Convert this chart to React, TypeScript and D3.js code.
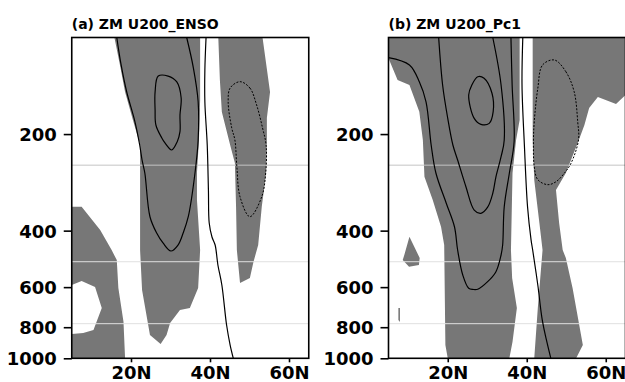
import React, { useEffect, useRef } from "react";
import * as d3 from "d3";

type Pt = [number, number]; // [latitude (deg N), pressure (hPa)]

const panelTitles = ["(a) ZM U200_ENSO", "(b) ZM U200_Pc1"];
const latTicks = [20, 40, 60];
const presTicks = [200, 400, 600, 800, 1000];
const refLevels = [250, 500, 780];

// ---- panel (a) ENSO ----
const ensoShade: Pt[][] = [
    [[15.8, 100], [17.2, 121.8], [18.5, 147.8], [20.5, 181], [22.3, 216], [22.3, 460], [22.8, 612], [24.8, 846], [27.5, 903], [29.0, 846], [29.9, 776], [32.4, 707], [34.9, 697], [37.0, 604], [37.5, 460], [36.7, 321], [36.7, 264], [37.2, 209], [37.5, 157], [37.5, 100]],
    [[42.1, 100], [42.5, 135.7], [43.0, 170.7], [45.1, 216.3], [46.3, 246.2], [46.6, 337.6], [46.8, 459.6], [47.6, 582], [50.1, 562], [51.0, 501], [52.2, 443.5], [53.1, 337.6], [54.2, 264.5], [54.4, 208.6], [54.4, 178.2], [55.2, 147.8], [53.3, 100]],
    [[5, 337], [7.5, 337], [12.2, 398], [15.1, 460], [16.4, 494], [16.8, 604], [18.1, 769], [18.5, 1000], [5, 1000], [5, 840], [7.9, 834], [10.5, 816], [12.6, 697], [10.9, 599], [7.5, 574], [5, 591]],
];
const ensoLines: Pt[][] = [
    [[16.4, 100], [17.5, 121.8], [18.9, 147.6], [21.0, 183.1], [22.2, 216.3], [22.8, 240.9], [23.5, 264.5], [24.8, 362], [26.5, 407], [28.1, 437], [30.1, 463], [31.9, 443.5], [33.2, 407], [34.5, 362], [36.2, 264.5], [37.0, 208.6], [37.0, 158.5], [35.8, 124.5], [34.1, 100]],
    [[39.0, 100], [38.7, 126.3], [38.7, 158.5], [39.3, 216.3], [39.6, 298.9], [39.8, 378.7], [40.5, 418.7], [41.3, 443.5], [42.0, 511.8], [43.0, 591], [44.2, 787.6], [45.1, 909], [45.9, 1000]],
];
const ensoLoops: Pt[][] = [
    [[26.9, 131.9], [29.4, 131.9], [31.6, 137.6], [32.7, 154.4], [32.4, 174.4], [32.4, 196.6], [31.7, 211.2], [30.3, 224.2], [28.6, 213.2], [27.8, 205.7], [26.3, 187.4], [26.1, 168.3], [26.1, 147.8]],
];
const ensoNeg: Pt[][] = [
    [[47.6, 137.3], [50.1, 143.7], [51.8, 162.3], [53.3, 191.4], [54.2, 216.3], [54.1, 264.5], [53.1, 313.6], [50.1, 361.9], [47.6, 313.6], [46.8, 252.8], [46.3, 208.6], [45.5, 191.4], [44.6, 158.5], [45.1, 143.7]],
];

// ---- panel (b) PC1 ----
const pc1Shade: Pt[][] = [
    [[5, 100], [38.2, 100], [38.2, 180.7], [37.3, 208.6], [36.4, 264.5], [36.0, 459.6], [36.3, 562], [37.5, 697], [36.4, 888], [35.6, 1000], [20.0, 1000], [19.4, 909], [19.1, 443.5], [18.3, 389], [16.2, 321], [14.1, 271.6], [13.7, 208.6], [12.8, 170.3], [10.3, 140.6], [7.3, 135.7], [5, 116]],
    [[41.5, 100], [65, 100], [65, 151], [62.6, 161.2], [58.0, 153.3], [55.8, 165.9], [54.6, 187.4], [53.1, 210.2], [49.9, 264.5], [47.4, 298.9], [48.2, 378.7], [49.1, 459.6], [49.9, 486.8], [51.6, 603.8], [54.2, 909], [52.5, 1000], [41.9, 1000], [42.8, 697], [44.0, 459.6], [43.2, 378.7], [41.9, 278.2], [41.5, 208.6]],
    [[10.3, 417.8], [12.9, 486.8], [12.7, 511.8], [10.2, 518.2], [8.6, 494], [9.0, 476]],
    [[7.5, 697], [7.9, 697], [7.9, 771], [7.5, 760]],
];
const pc1Lines: Pt[][] = [
    [[5, 115.6], [10.3, 121.8], [12.8, 137.4], [14.5, 158.6], [15.8, 216.3], [17.0, 264.5], [19.6, 328], [21.7, 389], [22.5, 459.6], [23.8, 550], [25.3, 605], [26.4, 610], [27.6, 609], [30.1, 577], [32.2, 537], [33.5, 476.4], [33.9, 443.5], [34.3, 337], [35.6, 264.5], [36.8, 211], [36.3, 140.6], [36.0, 100]],
    [[17.7, 100], [18.7, 140.6], [20.0, 178.7], [21.3, 216.3], [22.5, 240.9], [24.6, 291.8], [26.7, 345], [28.4, 353.2], [30.1, 338], [31.4, 305.9], [32.2, 271.7], [33.5, 235.3], [34.3, 208.6], [33.5, 140.6], [31.4, 100]],
    [[39.0, 100], [38.8, 140.6], [39.4, 216.3], [40.2, 337], [41.1, 428], [41.5, 459.6], [42.8, 591], [44.0, 769], [46.1, 1000]],
];
const pc1Loops: Pt[][] = [
    [[27.6, 132.5], [29.2, 134], [31.2, 149.2], [31.5, 170.3], [30.5, 185.2], [28.4, 186.5], [26.7, 178.7], [25.3, 151], [26.1, 140.6]],
];
const pc1Neg: Pt[][] = [
    [[47.0, 117.5], [49.9, 127.8], [52.0, 147.5], [52.9, 183], [53.1, 208.6], [51.2, 246.7], [49.5, 265], [47.4, 281.6], [45.3, 287.6], [42.8, 277.5], [41.9, 252.8], [41.7, 208.6], [41.9, 183], [42.8, 144], [44.0, 121.8]],
];

const panels = [
    { title: panelTitles[0], shade: ensoShade, lines: ensoLines, loops: ensoLoops, neg: ensoNeg },
    { title: panelTitles[1], shade: pc1Shade, lines: pc1Lines, loops: pc1Loops, neg: pc1Neg },
];

const ZonalPanels: React.FC = () => {
    const svgRef = useRef<SVGSVGElement | null>(null);

    useEffect(() => {
        if (!svgRef.current) return;
        const svg = d3.select(svgRef.current);
        svg.selectAll("*").remove();

        const width = 625;
        const height = 382;
        const panelLeft = [71.75, 388.5];
        const panelW = 237;
        const top = 37.5;
        const bottom = 358.3;
        const font = "'DejaVu Sans', sans-serif";
        const refColors = ["#c4c4c4", "#e0e0e0", "#e0e0e0"];

        svg.attr("width", width).attr("height", height);

        const y = d3.scaleLog().domain([100, 1000]).range([top, bottom]);

        panels.forEach((p, i) => {
            const left = panelLeft[i];
            const x = d3.scaleLinear().domain([5, 65]).range([left, left + panelW]);
            const g = svg.append("g");

            g.append("defs")
                .append("clipPath")
                .attr("id", `clip-${i}`)
                .append("rect")
                .attr("x", left)
                .attr("y", top)
                .attr("width", panelW)
                .attr("height", bottom - top);

            const plot = g.append("g").attr("clip-path", `url(#clip-${i})`);

            const poly = d3.line<Pt>().x((d) => x(d[0])).y((d) => y(d[1]));
            const smooth = d3.line<Pt>().x((d) => x(d[0])).y((d) => y(d[1])).curve(d3.curveCatmullRom.alpha(0.5));
            const smoothClosed = d3.line<Pt>().x((d) => x(d[0])).y((d) => y(d[1])).curve(d3.curveCatmullRomClosed.alpha(0.5));

            plot.selectAll("path.shade")
                .data(p.shade)
                .join("path")
                .attr("class", "shade")
                .attr("d", (d) => poly(d) + "Z")
                .attr("fill", "#777777");

            plot.selectAll("line.ref")
                .data(refLevels)
                .join("line")
                .attr("class", "ref")
                .attr("x1", left)
                .attr("x2", left + panelW)
                .attr("y1", (d) => y(d))
                .attr("y2", (d) => y(d))
                .attr("stroke", (_d, k) => refColors[k])
                .attr("stroke-width", 1);

            plot.selectAll("path.pos")
                .data(p.lines)
                .join("path")
                .attr("class", "pos")
                .attr("d", (d) => smooth(d))
                .attr("fill", "none")
                .attr("stroke", "#000")
                .attr("stroke-width", 1.2);

            plot.selectAll("path.loop")
                .data(p.loops)
                .join("path")
                .attr("class", "loop")
                .attr("d", (d) => smoothClosed(d))
                .attr("fill", "none")
                .attr("stroke", "#000")
                .attr("stroke-width", 1.2);

            plot.selectAll("path.neg")
                .data(p.neg)
                .join("path")
                .attr("class", "neg")
                .attr("d", (d) => smoothClosed(d))
                .attr("fill", "none")
                .attr("stroke", "#000")
                .attr("stroke-width", 1)
                .attr("stroke-dasharray", "2,1.5");

            // frame
            g.append("rect")
                .attr("x", left)
                .attr("y", top)
                .attr("width", panelW)
                .attr("height", bottom - top)
                .attr("fill", "none")
                .attr("stroke", "#000")
                .attr("stroke-width", 1.6);

            const yAxis = g.append("g")
                .attr("transform", `translate(${left},0)`)
                .call(d3.axisLeft(y).tickValues(presTicks).tickSize(8).tickPadding(7).tickFormat(d3.format("d")));
            yAxis.select(".domain").remove();
            yAxis.selectAll("line").attr("stroke", "#000").attr("stroke-width", 1.6);
            yAxis.selectAll("text")
                .attr("dy", "0.36em")
                .style("font-family", font)
                .style("font-weight", "bold")
                .attr("font-size", "18px")
                .attr("fill", "#000");

            const xAxis = g.append("g")
                .attr("transform", `translate(0,${bottom})`)
                .call(d3.axisBottom(x).tickValues(latTicks).tickSize(4).tickPadding(4).tickFormat((d) => `${d}N`));
            xAxis.select(".domain").remove();
            xAxis.selectAll("line").attr("stroke", "#000").attr("stroke-width", 1.6);
            xAxis.selectAll("text")
                .style("font-family", font)
                .style("font-weight", "bold")
                .attr("font-size", "18px")
                .attr("fill", "#000");

            g.append("text")
                .attr("x", left)
                .attr("y", 29)
                .text(p.title)
                .style("font-family", font)
                .style("font-weight", "bold")
                .attr("font-size", "14px")
                .attr("fill", "#000");
        });
    }, []);

    return (
        <div style={{ position: "absolute", left: 0, top: 0, width: 625, height: 382, background: "#fff" }}>
            <svg ref={svgRef} style={{ display: "block" }}></svg>
        </div>
    );
};

export default ZonalPanels;
